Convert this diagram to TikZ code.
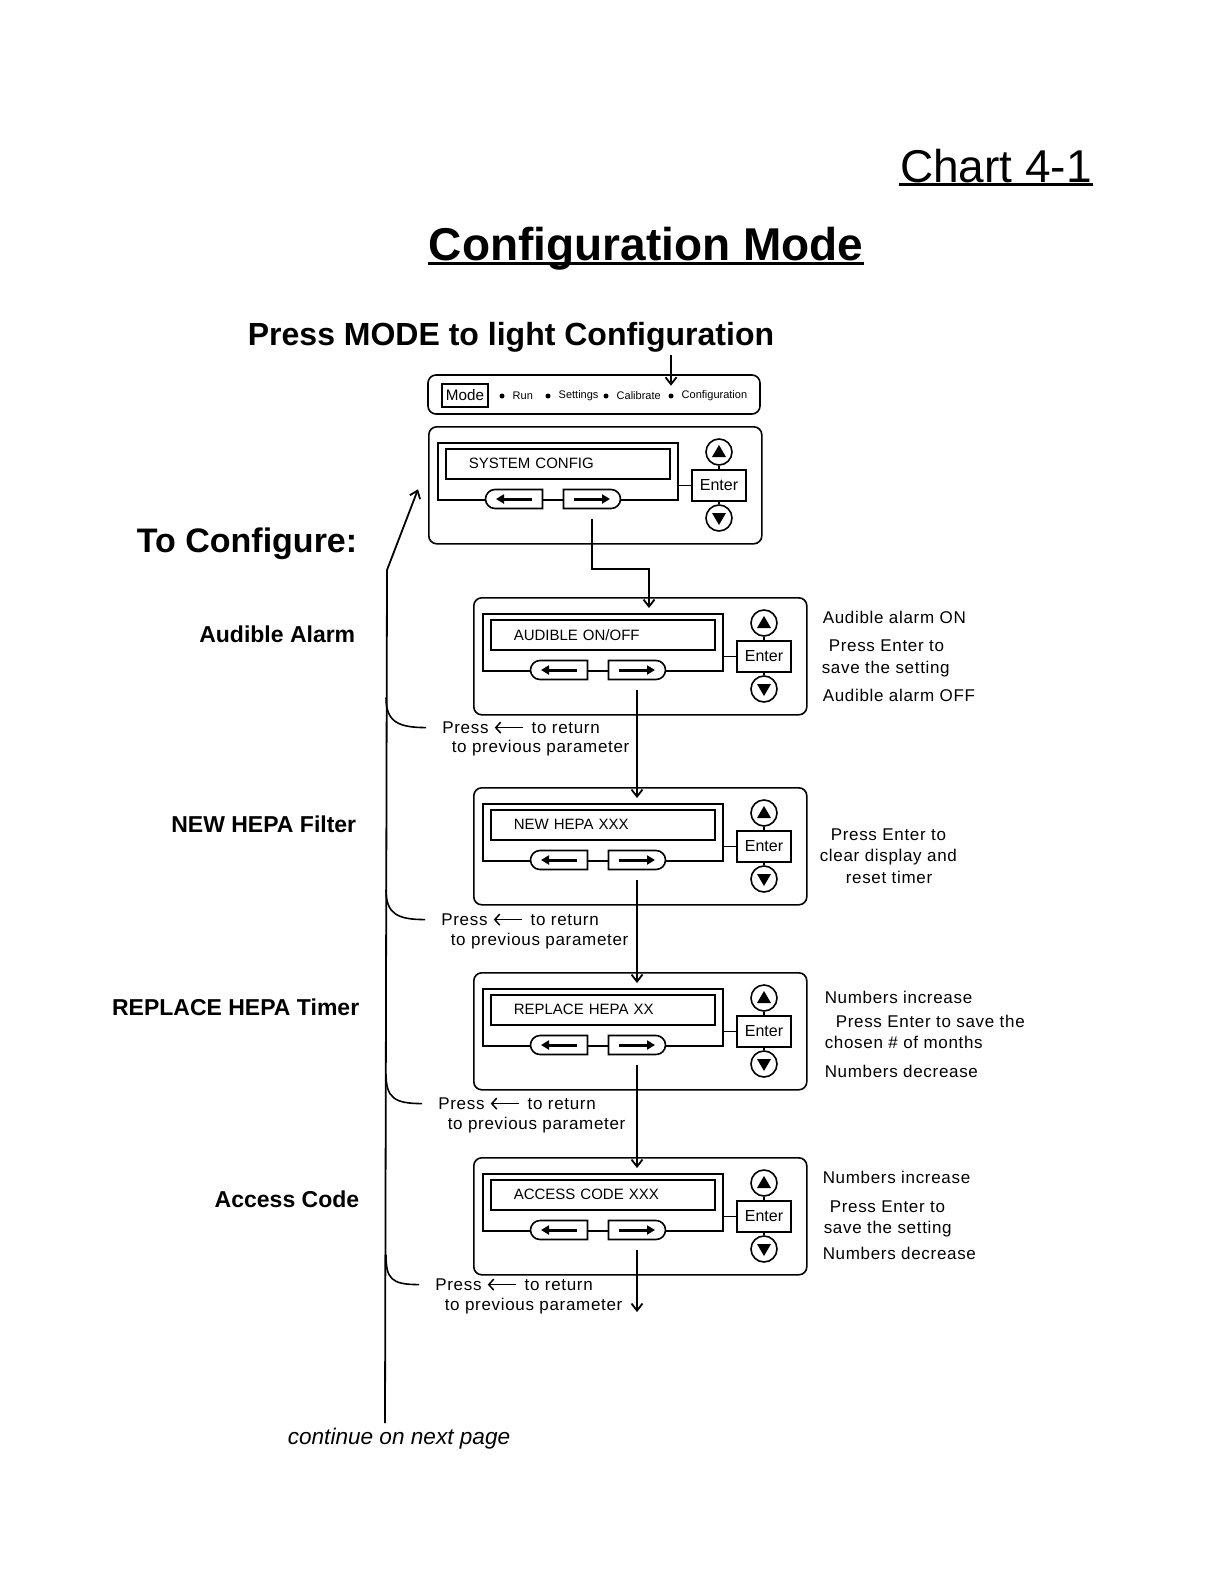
\documentclass[tikz,border=0pt]{standalone}
\usepackage{fontspec}
\setmainfont{Liberation Sans}
\newfontfamily\spaced[LetterSpace=4]{Liberation Sans}
\usetikzlibrary{calc, positioning, arrows.meta, shapes.misc}

% small back arrow used inside the return notes
\newcommand{\retarrow}{\tikz[baseline=-0.6ex]\draw[line width=0.75pt,
  -{Straight Barb[length=2.5pt,width=5.5pt]}] (14pt,0pt) -- (0pt,0pt);}

% one control panel: name, x, y (top left), display text
\newcommand{\panel}[4]{%
  \node[panelbox] (#1) at (#2,#3) {};
  \node[framebox] (#1-frame) at ($(#1.north west)+(9,16)$) {};
  \node[dispbox] (#1-disp) at ($(#1.north west)+(17,22)$) {#4};
  \node[lbtn] (#1-left) at ($(#1.north west)+(86,73)$) {};
  \node[rbtn] (#1-right) at ($(#1.north west)+(164,73)$) {};
  \node[enterbox] (#1-enter) at ($(#1.north west)+(291,59.5)$) {Enter};
  \node[roundbtn] (#1-up) at ($(#1.north west)+(291,26)$) {};
  \node[roundbtn] (#1-down) at ($(#1.north west)+(291,92)$) {};
  \draw (#1-frame.east |- #1-enter.west) -- (#1-enter.west);
  \draw (#1-up) -- (#1-enter);
  \draw (#1-enter) -- (#1-down);
  \fill ($(#1-up)+(0,-7)$) -- ($(#1-up)+(-7,5)$) -- ($(#1-up)+(7,5)$) -- cycle;
  \fill ($(#1-down)+(0,7)$) -- ($(#1-down)+(-7,-5)$) -- ($(#1-down)+(7,-5)$) -- cycle;
  \draw[btnarrow] ($(#1-left)+(18,0)$) -- ($(#1-left)+(-18,0)$);
  \draw[btnarrow] ($(#1-right)+(-18,0)$) -- ($(#1-right)+(18,0)$);
}

\begin{document}
\begin{tikzpicture}[
    x=0.5pt, y=-0.5pt,
    line width=0.8pt,
    panelbox/.style={draw, rounded corners=4pt, minimum width=166.5pt,
                     minimum height=58.5pt, anchor=north west, inner sep=0pt},
    framebox/.style={draw, minimum width=120pt, minimum height=28.5pt,
                     anchor=north west, inner sep=0pt},
    dispbox/.style={draw, minimum height=15pt, text width=89pt, inner xsep=11.5pt,
                    inner ysep=0pt, align=left, anchor=north west,
                    font=\fontsize{7.5}{9}\selectfont},
    lbtn/.style={draw, fill=white, rounded rectangle, rounded rectangle right arc=none,
                 minimum width=28.5pt, minimum height=9.5pt, inner sep=0pt},
    rbtn/.style={draw, fill=white, rounded rectangle, rounded rectangle left arc=none,
                 minimum width=28.5pt, minimum height=9.5pt, inner sep=0pt},
    enterbox/.style={draw, fill=white, minimum width=27pt, minimum height=15.5pt,
                     inner sep=0pt, font=\fontsize{8}{9}\selectfont},
    roundbtn/.style={draw, circle, minimum size=13pt, inner sep=0pt},
    btnarrow/.style={-{Triangle[length=4pt,width=4.5pt]}, line width=1.5pt},
    arr/.style={-{Straight Barb[length=3.5pt,width=5.5pt]}, line width=0.9pt},
    dot/.style={circle, fill, inner sep=0pt, minimum size=2.5pt},
    modelbl/.style={inner sep=0pt, font=\fontsize{5.5}{6}\selectfont},
    note/.style={anchor=base west, inner sep=0pt, font=\spaced\fontsize{8.5}{10.5}\selectfont},
    ret/.style={anchor=base west, inner xsep=8pt, inner ysep=0pt,
                font=\spaced\fontsize{8.5}{10.5}\selectfont},
    param/.style={anchor=base east, inner sep=0pt, font=\bfseries\fontsize{11.5}{14}\selectfont},
]
\useasboundingbox (0,0) rectangle (1224,1584);

% ── Titles ───────────────────────────────────────────────────
\node[anchor=base, inner sep=0pt, font=\fontsize{23}{27}\selectfont] (chart) at (996,182) {Chart 4-1};
\draw[line width=1.3pt] ([yshift=-1.2pt]chart.base west) -- ([yshift=-1.2pt]chart.base east);

\node[anchor=base, inner sep=0pt, font=\bfseries\fontsize{23}{27}\selectfont] (cfgtitle) at (646,260) {Configuration Mode};
\draw[line width=1.4pt] ([yshift=-1.6pt]cfgtitle.base west) -- ([yshift=-1.6pt]cfgtitle.base east);

\node[anchor=base, inner sep=1pt, font=\bfseries\fontsize{16}{19}\selectfont] (head) at (511,345) {Press MODE to light Configuration};

% ── Mode bar ─────────────────────────────────────────────────
\node[draw, rounded corners=4pt, minimum width=166pt, minimum height=19.5pt, inner sep=0pt] (modebar) at (594,394.5) {};
\node[draw, minimum width=23pt, minimum height=11.5pt, inner sep=0pt, font=\fontsize{7.6}{9}\selectfont] (modebtn) at (465,395.5) {Mode};
\foreach \x/\t/\n in {502/Run/run, 548/Settings/set, 606/Calibrate/cal, 671/Configuration/conf} {
  \node[dot] (\n-dot) at (\x,396) {};
  \node[modelbl, right=3.3pt of \n-dot] (\n) {\t};
}
\draw[arr] (head.south -| conf-dot) -- ([yshift=3.5pt]conf-dot.north);

% ── Panels ───────────────────────────────────────────────────
\panel{sys}{428}{426}{SYSTEM CONFIG}
\panel{aud}{473}{597}{AUDIBLE ON/OFF}
\panel{hepa}{473}{787}{NEW HEPA XXX}
\panel{repl}{473}{972}{REPLACE HEPA XX}
\panel{acc}{473}{1157}{ACCESS CODE XXX}

\coordinate (bend) at (649,569);
\draw[arr] ([yshift=-5pt]sys-right.south) |- (bend) -- ($(bend |- aud-frame.north)+(0,-5)$);
\draw[arr] ([yshift=-5pt]aud-right.south) -- ($(aud-right |- hepa-frame.north)+(0,-5)$);
\draw[arr] ([yshift=-5pt]hepa-right.south) -- ($(hepa-right |- repl-frame.north)+(0,-5)$);
\draw[arr] ([yshift=-5pt]repl-right.south) -- ($(repl-right |- acc-frame.north)+(0,-5)$);
\coordinate (acc-next) at (637,1312);
\draw[arr] ([yshift=-5pt]acc-right.south) -- (acc-next);

% ── Left labels ──────────────────────────────────────────────
\node[anchor=base east, inner sep=0pt, font=\bfseries\fontsize{17}{20}\selectfont] (tocfg) at (358,552) {To Configure:};
\node[param] (p-aud) at (356,642) {Audible Alarm};
\node[param] (p-hepa) at (357,832) {NEW HEPA Filter};
\node[param] (p-repl) at (360,1015) {REPLACE HEPA Timer};
\node[param] (p-acc) at (360,1207) {Access Code};

% ── Right notes ──────────────────────────────────────────────
\node[note] (aud-on) at (822,623) {Audible alarm ON};
\node[note] (aud-e1) at (828,651) {Press Enter to};
\node[note] (aud-e2) at (821,673) {save the setting};
\node[note] (aud-off) at (822,701) {Audible alarm OFF};

\node[note] (hepa-e1) at (830,840) {Press Enter to};
\node[note] (hepa-e2) at (819,861) {clear display and};
\node[note] (hepa-e3) at (845,883) {reset timer};

\node[note] (repl-inc) at (824,1003) {Numbers increase};
\node[note] (repl-e1) at (835,1027) {Press Enter to save the};
\node[note] (repl-e2) at (824,1048) {chosen \# of months};
\node[note] (repl-dec) at (824,1077) {Numbers decrease};

\node[note] (acc-inc) at (822,1183) {Numbers increase};
\node[note] (acc-e1) at (829,1212) {Press Enter to};
\node[note] (acc-e2) at (823,1233) {save the setting};
\node[note] (acc-dec) at (822,1259) {Numbers decrease};

% ── Return path ──────────────────────────────────────────────
\node[ret] (ret1) at (426,733) {Press\ \retarrow\ \,to return};
\node[note] (ret1b) at (451,752) {to previous parameter};
\node[ret] (ret2) at (425,925) {Press\ \retarrow\ \,to return};
\node[note] (ret2b) at (450,945) {to previous parameter};
\node[ret] (ret3) at (422,1109) {Press\ \retarrow\ \,to return};
\node[note] (ret3b) at (447,1129) {to previous parameter};
\node[ret] (ret4) at (419,1290) {Press\ \retarrow\ \,to return};
\node[note] (ret4b) at (444,1310) {to previous parameter};

\node[anchor=base, inner sep=0pt, font=\itshape\fontsize{11.3}{13}\selectfont] (nextpage) at (399,1444) {continue on next page};

\coordinate (spine) at (386,0);
\coordinate (knee) at (387,570);
\coordinate (cont) at (385,1423);
\draw[arr] (cont) -- (knee) -- ($(sys.west)+(-10,4)$);
\foreach \r in {ret1, ret2, ret3, ret4}
  \draw (\r.west) .. controls +(-28,0) and +(0,24) .. ($(spine |- \r.west)+(0,-30)$);

\end{tikzpicture}
\end{document}
